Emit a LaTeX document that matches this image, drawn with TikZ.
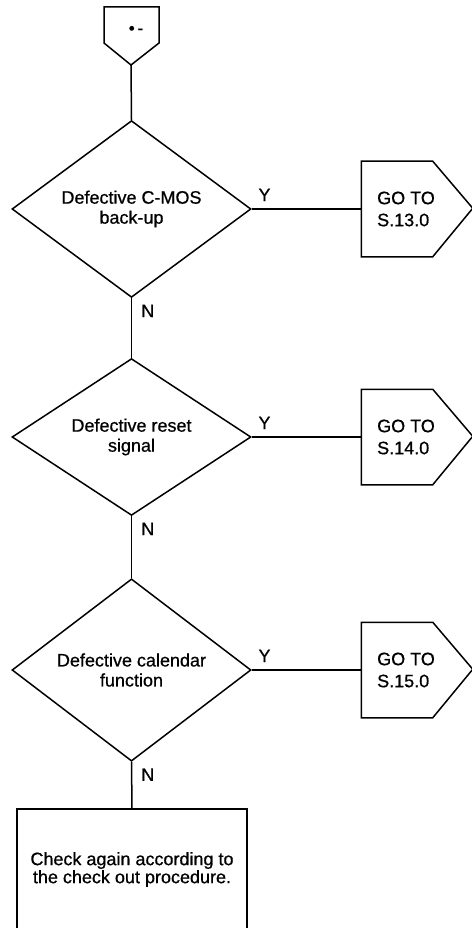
\documentclass[tikz,border=0pt]{standalone}
\usepackage{fontspec}
\setmainfont{Liberation Sans}[FakeBold=0.7]
\usepackage{tikz}
\usetikzlibrary{calc,shapes}

\begin{document}
\begin{tikzpicture}[x=1pt,y=-1pt,line width=1.5pt,
        font=\fontsize{18}{20}\selectfont,
        decision/.style={diamond,draw,minimum width=239pt,minimum height=138pt,inner sep=0pt,align=center},
        gobox/.style={minimum width=70pt,minimum height=94pt,inner sep=0pt},
        gotext/.style={align=left,inner sep=0pt,font=\fontsize{18}{22}\selectfont},
        ylabel/.style={anchor=base west,inner sep=0pt,xshift=6pt,yshift=8pt},
        nlabel/.style={anchor=base west,inner sep=0pt,xshift=9pt,yshift=-19pt}]
        \useasboundingbox (0,0) rectangle (471,928);
        % off-page connector
        \draw (104,7) -- (159,7) -- (159,43) -- (131,65) -- (104,43) -- cycle;
        \coordinate (start) at (131,65);
        \node[font=\fontsize{17}{17}\selectfont] (mark) at (136,30) {\textbullet\,-};
        \foreach \y/\q/\s in {209/{Defective C-MOS\\back-up}/13,
                              437/{Defective reset\\signal}/14,
                              670/{Defective calendar\\function}/15}
        {
        \node[decision] (d\s) at (131.5,\y) {\q};
        \node[gobox] (g\s) at (397,\y) {};
        \node[gotext] (t\s) at (406,\y) {GO TO\\S.\s.0};
        \draw (g\s.north west) -- (g\s.north east) -- ++(40,47) -- (g\s.south east) -- (g\s.south west) -- cycle;
        \draw (d\s.east) -- (g\s.west);
        \node[ylabel] (y\s) at (d\s.east) {Y};
        \node[nlabel] (n\s) at (d\s.south) {N};
        }
        \node[draw,minimum width=230pt,minimum height=121pt,inner sep=0pt,align=center,
            font=\fontsize{18}{18}\selectfont] (check) at (132,869.5)
            {Check again according to\\the check out procedure.};
        \draw (start) -- (d13.north);
        \draw (d13.south) -- (d14.north);
        \draw (d14.south) -- (d15.north);
        \draw (d15.south) -- (check.north);
    \end{tikzpicture}
\end{document}
